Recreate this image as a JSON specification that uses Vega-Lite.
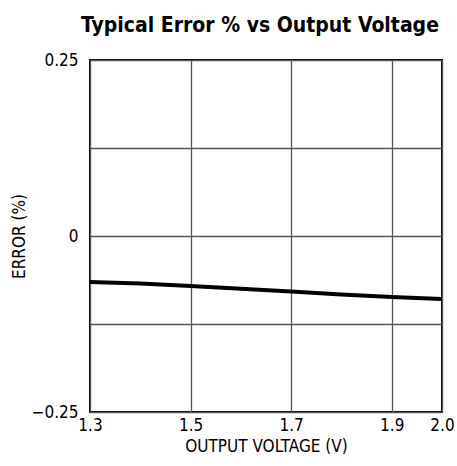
{
  "$schema": "https://vega.github.io/schema/vega-lite/v6.json",
  "autosize": {"type": "none"},
  "padding": {"left": 90, "top": 60, "right": 15, "bottom": 54},
  "width": 352,
  "height": 352,
  "title": {
    "text": "Typical Error % vs Output Voltage",
    "font": "DejaVu Sans Condensed, Roboto, sans-serif",
    "fontSize": 21,
    "fontWeight": "bold",
    "color": "black",
    "anchor": "middle",
    "offset": 15,
    "dx": -6
  },
  "config": {
    "view": {"stroke": "black", "strokeWidth": 2},
    "axis": {
      "labelFont": "DejaVu Sans Condensed, Roboto, sans-serif",
      "titleFont": "DejaVu Sans Condensed, Roboto, sans-serif",
      "labelFontSize": 17,
      "titleFontSize": 17,
      "titleFontWeight": "normal",
      "labelColor": "black",
      "titleColor": "black",
      "domain": false,
      "ticks": false,
      "gridColor": "#555555",
      "gridWidth": 1.3,
      "gridOpacity": 1
    }
  },
  "data": {
    "values": [
      {"v": 1.3, "e": -0.0653},
      {"v": 1.4, "e": -0.0675},
      {"v": 1.5, "e": -0.071},
      {"v": 1.6, "e": -0.075},
      {"v": 1.7, "e": -0.079},
      {"v": 1.8, "e": -0.083},
      {"v": 1.9, "e": -0.0866},
      {"v": 2.0, "e": -0.0895}
    ]
  },
  "mark": {"type": "line", "color": "black", "strokeWidth": 4},
  "encoding": {
    "x": {
      "field": "v",
      "type": "quantitative",
      "scale": {"domain": [1.3, 2.0], "nice": false, "zero": false},
      "axis": {
        "title": "OUTPUT VOLTAGE (V)",
        "values": [1.3, 1.5, 1.7, 1.9, 2.0],
        "format": ".1f",
        "labelPadding": 5,
        "titlePadding": 5,
        "labelFlush": false
      }
    },
    "y": {
      "field": "e",
      "type": "quantitative",
      "scale": {"domain": [-0.25, 0.25], "nice": false},
      "axis": {
        "title": "ERROR (%)",
        "values": [-0.25, -0.125, 0, 0.125, 0.25],
        "labelExpr": "datum.value == 0.25 ? '0.25' : datum.value == -0.25 ? '\u22120.25' : datum.value == 0 ? '0' : ''",
        "labelPadding": 12,
        "titleX": -71,
        "titleY": 176,
        "titleAngle": 270,
        "titleAlign": "center",
        "titleBaseline": "middle",
        "labelFlush": false
      }
    }
  }
}
